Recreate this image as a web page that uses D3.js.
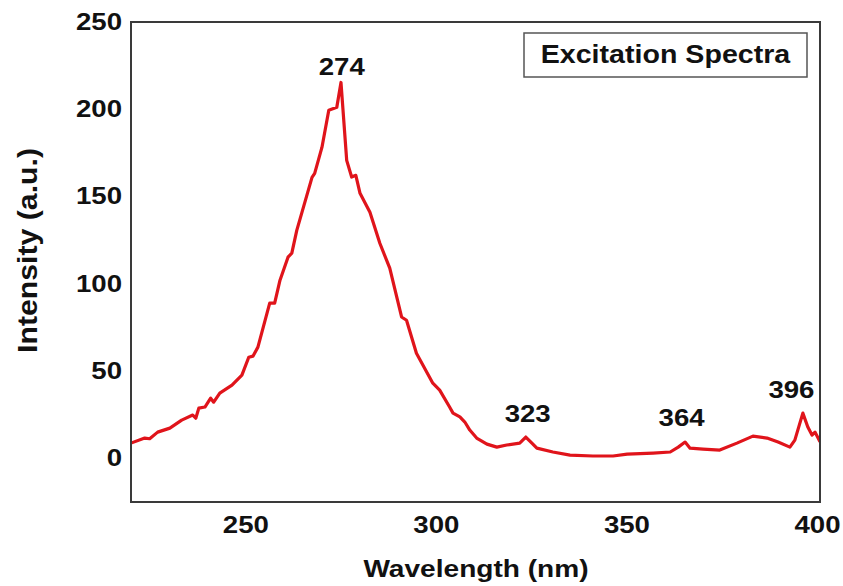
<!DOCTYPE html>
<html>
  <head>
    <title>Excitation Spectra</title>
    <script src="https://d3js.org/d3.v7.min.js"></script>
    <style>
      body { margin: 0; background: #fff; }
      text { font-family: "Liberation Sans", Arial, sans-serif; font-weight: bold; fill: #111; }
    </style>
  </head>

  <body>
    <svg id="plot" width="843" height="586"></svg>

    <script>
      // spectrum
      var wavelength = [220, 223.6, 224.9, 227.0, 230.2, 233.3, 236.2, 237.0, 237.8, 239.4,
        240.9, 241.7, 243.3, 246.5, 249.1, 250.9, 252.0, 253.3, 256.4, 257.7,
        259.1, 261.2, 262.2, 263.5, 267.5, 268.2, 270.1, 271.9, 274.0, 275.1,
        276.6, 277.9, 279.0, 280.1, 282.7, 285.3, 287.9, 291.0, 292.3, 294.9,
        299.2, 301.0, 303.6, 304.5, 306.3, 307.6, 308.9, 310.7, 313.4, 316.0,
        318.6, 322.0, 323.6, 325.2, 326.5, 330.7, 335.2, 341.2, 346.5, 350.2,
        357.0, 361.5, 363.6, 365.4, 366.7, 370.1, 374.5, 379.0, 383.2, 386.9,
        389.8, 392.9, 394.2, 396.3, 397.6, 398.7, 399.5, 400.3, 400.8];
      var intensity = [8.3, 11.2, 10.8, 14.6, 16.9, 21.5, 24.4, 22.6, 28.4, 29.0,
        34.1, 31.8, 37.0, 41.6, 47.3, 57.6, 58.2, 63.4, 88.6, 88.6,
        101.8, 115.0, 117.3, 130.4, 160.8, 163.1, 178.0, 199.3, 201.0, 215.3,
        170.6, 161.0, 162.0, 151.7, 140.8, 123.0, 108.7, 80.7, 78.8, 59.9,
        42.7, 38.7, 29.0, 25.5, 23.3, 20.4, 15.8, 11.2, 7.7, 6.0,
        7.2, 8.3, 11.8, 8.3, 5.4, 3.2, 1.4, 0.9, 0.9, 2.0,
        2.6, 3.2, 6.0, 8.9, 5.4, 4.9, 4.3, 8.3, 12.3, 11.2,
        8.9, 6.0, 10.0, 25.5, 17.5, 12.9, 14.6, 11.2, 9.0];

      var xTicks = [250, 300, 350, 400];
      var yTicks = [0, 50, 100, 150, 200, 250];

      // peak labels and where their text sits (data units)
      var peakNames = ["274", "323", "364", "396"];
      var peakLabelX = [275.3, 324.1, 364.5, 393.3];
      var peakLabelY = [219.6, 20.6, 18.3, 34.4];

      var margin = { top: 22, right: 23, bottom: 84, left: 131 };
      var W = 843, H = 586;

      var svg = d3.select("#plot");

      var x = d3.scaleLinear().domain([220, 400.8]).range([margin.left, W - margin.right]);
      var y = d3.scaleLinear().domain([-25.5, 250]).range([H - margin.bottom, margin.top]);

      // stretch text a little sideways, the original font is wider than Arial
      var widen = function (sel, k) {
        sel.each(function () {
          var len = this.getComputedTextLength();
          d3.select(this).attr("textLength", len * k).attr("lengthAdjust", "spacingAndGlyphs");
        });
      };

      // Y axis
      var gy = svg.append("g")
        .attr("transform", "translate(" + margin.left + ",0)")
        .call(d3.axisLeft(y).tickValues(yTicks).tickSize(0).tickPadding(9));
      gy.select(".domain").remove();
      gy.selectAll("text").style("font-size", "24px").style("font-family", null).attr("fill", "#111");
      widen(gy.selectAll("text"), 1.15);

      // X axis
      var gx = svg.append("g")
        .attr("transform", "translate(0," + (H - margin.bottom) + ")")
        .call(d3.axisBottom(x).tickValues(xTicks).tickSize(0).tickPadding(14));
      gx.select(".domain").remove();
      gx.selectAll("text").style("font-size", "24px").style("font-family", null).attr("fill", "#111");
      widen(gx.selectAll("text"), 1.15);

      svg.append("clipPath").attr("id", "clip")
        .append("rect")
        .attr("x", margin.left).attr("y", margin.top)
        .attr("width", W - margin.left - margin.right)
        .attr("height", H - margin.top - margin.bottom);

      // spectrum
      var pts = wavelength.map(function (d, i) { return [d, intensity[i]]; });
      svg.append("path")
        .datum(pts)
        .attr("clip-path", "url(#clip)")
        .attr("fill", "none")
        .attr("stroke", "#e0141b")
        .attr("stroke-width", 3.2)
        .attr("stroke-linejoin", "round")
        .attr("d", d3.line().x(function (d) { return x(d[0]); }).y(function (d) { return y(d[1]); }));

      // frame
      svg.append("rect")
        .attr("x", margin.left).attr("y", margin.top)
        .attr("width", W - margin.left - margin.right)
        .attr("height", H - margin.top - margin.bottom)
        .attr("fill", "none")
        .attr("stroke", "#3a3a3a")
        .attr("stroke-width", 2);

      // peak labels
      var lab = svg.selectAll(".peak")
        .data(peakNames)
        .join("text")
        .attr("class", "peak")
        .attr("x", function (d, i) { return x(peakLabelX[i]); })
        .attr("y", function (d, i) { return y(peakLabelY[i]); })
        .attr("text-anchor", "middle")
        .style("font-size", "24px")
        .text(function (d) { return d; });
      widen(lab, 1.15);

      // legend box
      svg.append("rect")
        .attr("x", 524).attr("y", 33)
        .attr("width", 283).attr("height", 44)
        .attr("fill", "#fff")
        .attr("stroke", "#555")
        .attr("stroke-width", 1.5);
      var leg = svg.append("text")
        .attr("x", 665.5).attr("y", 63)
        .attr("text-anchor", "middle")
        .style("font-size", "26px")
        .text("Excitation Spectra");
      widen(leg, 1.1);

      // axis titles
      var xt = svg.append("text")
        .attr("x", 476).attr("y", 577)
        .attr("text-anchor", "middle")
        .style("font-size", "24px")
        .text("Wavelength (nm)");
      widen(xt, 1.17);

      var yt = svg.append("text")
        .attr("transform", "translate(37,250.5) rotate(-90)")
        .attr("text-anchor", "middle")
        .style("font-size", "28px")
        .text("Intensity (a.u.)");
      widen(yt, 1.08);
    </script>
  </body>
</html>
